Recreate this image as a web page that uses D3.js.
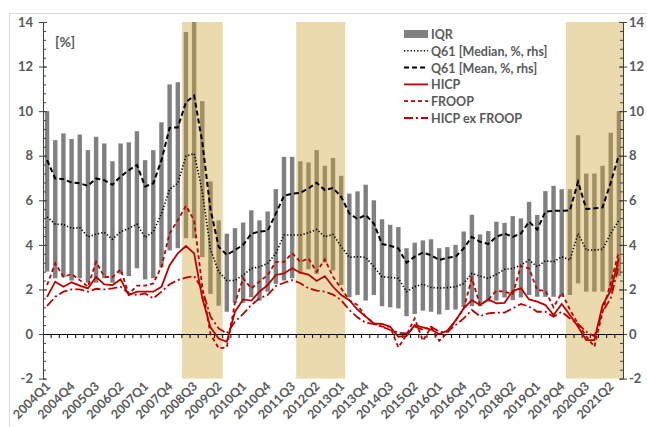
<!DOCTYPE html>
<html>
<head>
<meta charset="utf-8">
<script src="https://cdn.jsdelivr.net/npm/d3@7"></script>
<style>
  body { margin: 0; background: #fff; }
  svg text { font-family: Lato, "Open Sans", sans-serif; fill: #595959; }
</style>
</head>
<body>
<div id="chart-area"></div>
<script>
// quarters 2004Q1 .. 2021Q3
var quarters = [
  "2004Q1","2004Q2","2004Q3","2004Q4","2005Q1","2005Q2","2005Q3","2005Q4",
  "2006Q1","2006Q2","2006Q3","2006Q4","2007Q1","2007Q2","2007Q3","2007Q4",
  "2008Q1","2008Q2","2008Q3","2008Q4","2009Q1","2009Q2","2009Q3","2009Q4",
  "2010Q1","2010Q2","2010Q3","2010Q4","2011Q1","2011Q2","2011Q3","2011Q4",
  "2012Q1","2012Q2","2012Q3","2012Q4","2013Q1","2013Q2","2013Q3","2013Q4",
  "2014Q1","2014Q2","2014Q3","2014Q4","2015Q1","2015Q2","2015Q3","2015Q4",
  "2016Q1","2016Q2","2016Q3","2016Q4","2017Q1","2017Q2","2017Q3","2017Q4",
  "2018Q1","2018Q2","2018Q3","2018Q4","2019Q1","2019Q2","2019Q3","2019Q4",
  "2020Q1","2020Q2","2020Q3","2020Q4","2021Q1","2021Q2","2021Q3"
];

// shaded periods (first and last quarter)
var shaded = [["2008Q2","2009Q2"], ["2011Q4","2013Q1"], ["2020Q1","2021Q3"]];

// interquartile range of Q61 (upper / lower)
var iqrHigh = [10.0,8.7,9.0,8.75,8.95,8.25,8.85,8.55,7.75,8.55,8.6,9.1,7.8,8.25,9.5,11.2,
  11.3,13.55,14.0,10.45,6.85,5.1,4.5,4.75,5.0,5.55,5.1,5.5,6.5,7.95,7.95,7.75,
  7.7,8.25,7.55,7.9,7.1,6.3,6.4,6.7,6.0,5.15,4.9,4.8,3.85,4.1,4.2,4.25,
  3.85,3.9,4.0,4.6,5.35,4.47,4.62,5.04,4.99,5.29,5.19,5.93,5.34,6.41,6.65,6.5,
  6.5,8.92,7.2,7.2,7.55,9.03,10.0];
var iqrLow = [2.8,2.5,2.55,2.4,2.5,2.3,2.3,2.5,2.3,2.7,2.6,2.95,2.45,2.5,3.0,3.75,
  3.85,4.3,4.3,3.45,1.8,1.27,1.0,1.4,1.4,1.65,1.5,1.9,2.25,2.4,2.5,2.7,
  2.9,2.7,3.2,2.85,2.2,1.65,1.75,1.5,1.75,1.25,1.2,1.15,0.8,0.9,1.05,1.0,
  0.88,1.08,1.1,1.2,1.25,1.25,1.45,1.5,1.64,1.52,1.64,1.75,1.67,1.67,1.67,1.67,
  1.75,2.27,1.9,1.9,1.9,1.95,2.6];

var q61Median = [5.26,4.93,4.92,4.74,4.78,4.36,4.48,4.56,4.25,4.59,4.74,4.93,4.33,4.59,5.4,6.5,
  6.76,7.98,8.1,6.4,3.8,2.8,2.4,2.4,2.65,2.94,3.02,3.17,3.62,4.44,4.44,4.44,
  4.54,4.69,4.36,4.47,3.92,3.44,3.47,3.44,3.02,2.57,2.54,2.5,1.9,2.12,2.24,2.09,
  2.06,2.08,2.12,2.27,2.72,2.6,2.5,2.68,2.9,2.94,3.09,3.32,3.02,3.29,3.24,3.47,
  3.32,4.51,3.77,3.77,3.8,4.51,5.11];
var q61Mean = [7.8,6.98,6.95,6.8,6.76,6.65,6.98,6.9,6.7,7.06,7.35,7.58,6.62,6.76,7.8,9.25,
  9.27,10.4,10.7,8.6,5.6,3.92,3.55,3.77,4.0,4.5,4.6,4.63,5.4,6.2,6.3,6.34,
  6.53,6.79,6.46,6.55,6.16,5.41,5.16,5.34,4.96,4.04,3.96,3.84,3.2,3.47,3.65,3.54,
  3.32,3.42,3.47,3.84,4.36,4.14,4.04,4.36,4.51,4.36,4.51,5.04,4.69,5.49,5.53,5.53,
  5.55,6.83,5.61,5.64,5.68,6.8,8.03];

var hicp = [1.67,2.35,2.12,2.32,2.17,2.05,2.57,2.23,2.2,2.45,1.75,1.9,1.9,1.9,2.12,3.09,
  3.62,3.95,3.62,1.6,0.3,-0.2,-0.35,1.0,1.55,1.5,1.9,2.2,2.65,2.72,2.95,2.75,
  2.67,2.38,2.6,2.12,1.75,1.52,1.1,0.78,0.48,0.45,0.33,-0.12,-0.08,0.4,0.3,0.2,
  0.0,0.15,0.6,1.15,1.52,1.3,1.55,1.38,1.4,1.94,2.05,1.55,1.45,1.3,0.85,1.35,
  0.85,0.33,-0.27,-0.27,1.3,1.95,3.4];
var froop = [2.2,3.17,2.57,2.69,2.42,2.12,3.24,2.57,2.55,2.9,1.79,2.17,2.17,2.27,3.02,4.51,
  5.11,5.75,5.1,2.1,0.0,-0.64,-0.6,1.4,2.5,2.05,2.35,2.65,3.24,3.24,3.62,3.24,
  3.39,2.79,3.35,2.57,2.05,1.52,1.3,0.78,0.48,0.33,0.33,-0.6,-0.04,0.7,-0.3,0.3,
  -0.3,0.05,0.6,1.15,2.5,1.3,1.55,1.94,1.9,1.79,3.05,2.94,1.97,1.94,1.2,1.85,
  1.1,0.45,-0.1,-0.57,1.0,2.3,3.7];
var hicpExFroop = [1.26,1.67,1.9,2.0,2.0,1.9,2.03,2.0,2.05,2.12,1.82,1.75,1.82,1.6,1.9,2.23,
  2.42,2.53,2.6,2.0,0.78,0.25,0.03,0.55,0.9,1.3,1.6,1.75,2.15,2.3,2.42,2.28,
  2.05,1.95,1.9,1.77,1.52,1.08,0.75,0.51,0.45,0.33,0.18,0.06,0.03,0.33,0.2,0.33,
  0.1,0.1,0.4,0.7,1.08,0.8,0.93,0.96,0.96,1.15,1.35,1.23,1.0,1.0,0.78,1.0,
  0.7,0.45,0.1,-0.1,1.0,1.6,3.1];

var yTicks = [-2, 0, 2, 4, 6, 8, 10, 12, 14];

var W = 647, H = 427;
var left = 43, right = 623;

var svg = d3.select("#chart-area")
  .append("svg")
    .attr("width", W)
    .attr("height", H);

// chart frame
svg.append("rect")
  .attr("x", 9.5).attr("y", 13.5)
  .attr("width", 700).attr("height", 500)
  .attr("fill", "none")
  .attr("stroke", "#d9d9d9");

var x = d3.scaleBand()
  .domain(quarters)
  .range([left, right])
  .padding(0);

var y = d3.scaleLinear()
  .domain([-2, 14])
  .range([378.6, 22]);

var cx = function(i) { return x(quarters[i]) + x.bandwidth() / 2; };

// IQR bars
svg.append("g").selectAll("rect")
  .data(quarters)
  .enter()
  .append("rect")
    .attr("x", function(d, i) { return cx(i) - 2.2; })
    .attr("width", 4.4)
    .attr("y", function(d, i) { return y(iqrHigh[i]); })
    .attr("height", function(d, i) { return y(iqrLow[i]) - y(iqrHigh[i]); })
    .attr("fill", "#808080");

// shaded periods, drawn over the bars
svg.append("g").selectAll("rect")
  .data(shaded)
  .enter()
  .append("rect")
    .attr("x", function(d) { return x(d[0]); })
    .attr("width", function(d) { return x(d[1]) + x.bandwidth() - x(d[0]); })
    .attr("y", y(14))
    .attr("height", y(-2) - y(14))
    .attr("fill", "rgb(205,162,52)")
    .attr("opacity", 0.4);

// left axis
var minorVals = d3.range(-2, 14.001, 0.4);
var plain = function(d) { return String(d); };
svg.append("g")
  .attr("transform", "translate(" + left + ",0)")
  .call(d3.axisRight(y).tickValues(minorVals).tickSize(3).tickFormat(""))
  .call(function(g) { g.select(".domain").remove(); });
svg.append("g")
  .attr("transform", "translate(" + left + ",0)")
  .call(d3.axisRight(y).tickValues(yTicks).tickSize(4).tickFormat(""))
  .call(function(g) { g.select(".domain").remove(); });
var yLeft = svg.append("g")
  .attr("transform", "translate(" + left + ",0)")
  .call(d3.axisLeft(y).tickValues(yTicks).tickFormat(plain).tickSize(4).tickSizeOuter(0).tickPadding(6));

// right axis
svg.append("g")
  .attr("transform", "translate(" + right + ",0)")
  .call(d3.axisLeft(y).tickValues(minorVals).tickSize(3).tickFormat(""))
  .call(function(g) { g.select(".domain").remove(); });
svg.append("g")
  .attr("transform", "translate(" + right + ",0)")
  .call(d3.axisLeft(y).tickValues(yTicks).tickSize(4).tickFormat(""))
  .call(function(g) { g.select(".domain").remove(); });
var yRight = svg.append("g")
  .attr("transform", "translate(" + right + ",0)")
  .call(d3.axisRight(y).tickValues(yTicks).tickFormat(plain).tickSize(4).tickSizeOuter(0).tickPadding(2));

[yLeft, yRight].forEach(function(g) {
  g.select(".domain").attr("stroke", "#404040");
  g.selectAll("text")
    .attr("font-size", "13px")
    .attr("font-weight", "bold")
    .style("fill", "#595959");
});
svg.selectAll(".tick line").attr("stroke", "#404040");

// x axis at zero
svg.append("g")
  .attr("transform", "translate(0," + y(0) + ")")
  .call(d3.axisBottom(x).tickSize(0).tickFormat(""))
  .call(function(g) { g.select(".domain").attr("stroke", "#000"); });

svg.append("g").selectAll("line")
  .data(quarters.slice(1))
  .enter()
  .append("line")
    .attr("x1", function(d) { return x(d); })
    .attr("x2", function(d) { return x(d); })
    .attr("y1", y(0))
    .attr("y2", y(0) + 4)
    .attr("stroke", "#000");

// x labels every third quarter
svg.append("g").selectAll("text")
  .data(quarters.filter(function(d, i) { return i % 3 === 0; }))
  .enter()
  .append("text")
    .attr("transform", function(d) {
      return "translate(" + (x(d) + x.bandwidth() / 2 + 4) + ",387) rotate(-45)";
    })
    .attr("text-anchor", "end")
    .attr("font-size", "12.5px")
    .attr("font-weight", "bold")
    .text(function(d) { return d; });

// lines
var line = function(vals) {
  return d3.line()
    .x(function(d, i) { return cx(i); })
    .y(function(d) { return y(d); })(vals);
};

var series = [
  {name: "Q61 [Median, %, rhs]", vals: q61Median, color: "#000", width: 1.6, dash: "1.3,2"},
  {name: "Q61 [Mean, %, rhs]", vals: q61Mean, color: "#000", width: 2, dash: "5,3"},
  {name: "HICP", vals: hicp, color: "#c00000", width: 1.8, dash: null},
  {name: "FROOP", vals: froop, color: "#c00000", width: 1.8, dash: "4,3"},
  {name: "HICP ex FROOP", vals: hicpExFroop, color: "#c00000", width: 1.8, dash: "9,3,2,3"}
];

series.forEach(function(s) {
  svg.append("path")
    .attr("d", line(s.vals))
    .attr("fill", "none")
    .attr("stroke", s.color)
    .attr("stroke-width", s.width)
    .attr("stroke-dasharray", s.dash);
});

// [%] label
svg.append("text")
  .attr("x", 55)
  .attr("y", 47)
  .attr("font-size", "14px")
  .attr("font-weight", "bold")
  .text("[%]");

// legend
var lg = svg.append("g").attr("transform", "translate(404,34)");
lg.append("rect")
  .attr("x", 0).attr("y", -4)
  .attr("width", 24).attr("height", 8)
  .attr("fill", "#808080");
lg.append("text")
  .attr("x", 27).attr("y", 5)
  .attr("font-size", "12.5px")
  .attr("font-weight", "bold")
  .text("IQR");

series.forEach(function(s, i) {
  var yy = 16.8 * (i + 1);
  lg.append("line")
    .attr("x1", 0).attr("x2", 24)
    .attr("y1", yy).attr("y2", yy)
    .attr("stroke", s.color)
    .attr("stroke-width", s.width)
    .attr("stroke-dasharray", s.dash);
  lg.append("text")
    .attr("x", 27).attr("y", yy + 5)
    .attr("font-size", "12.5px")
    .attr("font-weight", "bold")
    .text(s.name);
});
</script>
</body>
</html>
